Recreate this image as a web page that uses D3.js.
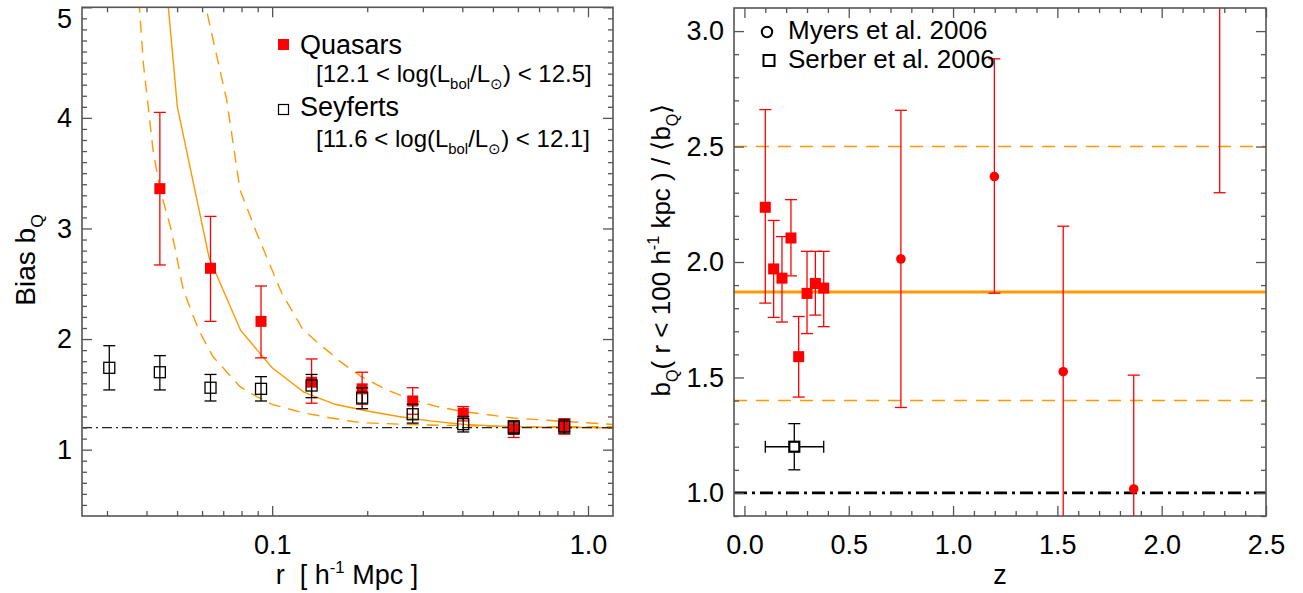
<!DOCTYPE html>
<html>
<head>
<meta charset="utf-8">
<script src="https://cdn.jsdelivr.net/npm/d3@7"></script>
<style>
	body { margin: 0; background: #fff; }
	text { font-family: "Liberation Sans", Arial, sans-serif; fill: #000; }
</style>
</head>
<body>
<div id="chart"></div>
<script>

// painel esquerdo: bias vs r
var quasarR = [0.0441, 0.0638, 0.0922, 0.1333, 0.1927, 0.2786, 0.4027, 0.5821, 0.8414];
var quasarBias = [3.36, 2.64, 2.16, 1.61, 1.55, 1.44, 1.33, 1.19, 1.21];
var quasarHi = [4.05, 3.11, 2.48, 1.82, 1.70, 1.56, 1.39, 1.26, 1.28];
var quasarLo = [2.67, 2.16, 1.83, 1.42, 1.41, 1.32, 1.26, 1.11, 1.14];

var seyfertR = [0.0305, 0.0441, 0.0638, 0.0922, 0.1333, 0.1927, 0.2786, 0.4027, 0.5821, 0.8414];
var seyfertBias = [1.74, 1.70, 1.56, 1.55, 1.58, 1.47, 1.32, 1.23, 1.20, 1.21];
var seyfertHi = [1.94, 1.85, 1.68, 1.66, 1.68, 1.56, 1.41, 1.30, 1.26, 1.27];
var seyfertLo = [1.54, 1.54, 1.44, 1.44, 1.47, 1.37, 1.24, 1.16, 1.14, 1.15];

var modelR = [0.0316, 0.0398, 0.0501, 0.0631, 0.0794, 0.1, 0.126, 0.158, 0.2, 0.251, 0.316, 0.398, 0.501, 0.631, 0.794, 1.0, 1.26];
var modelBias = [14, 7.26, 4.10, 2.74, 2.08, 1.74, 1.52, 1.41, 1.35, 1.30, 1.26, 1.23, 1.215, 1.205, 1.20, 1.20, 1.195];

var upperR = [0.0595, 0.0617, 0.0651, 0.0718, 0.0791, 0.0893, 0.1072, 0.1253, 0.1416, 0.152, 0.160, 0.191, 0.230, 0.277, 0.331, 0.400, 0.579, 0.840, 1.25];
var upperBias = [5.3, 5.0, 4.70, 4.16, 3.35, 2.96, 2.416, 2.084, 1.95, 1.88, 1.82, 1.662, 1.542, 1.452, 1.391, 1.346, 1.286, 1.256, 1.224];

var lowerR = [0.0368, 0.0380, 0.0391, 0.0420, 0.0441, 0.0480, 0.0523, 0.0557, 0.0591, 0.0650, 0.0791, 0.0895, 0.1005, 0.125, 0.152, 0.191, 0.277, 0.402, 0.578, 1.25];
var lowerBias = [5.6, 5.0, 4.494, 3.70, 3.36, 2.98, 2.446, 2.238, 2.057, 1.840, 1.569, 1.479, 1.407, 1.334, 1.289, 1.244, 1.226, 1.217, 1.208, 1.207];

var biasFloor = 1.2;

// painel direito: bias relativo vs z
var squareZ = [0.10, 0.14, 0.18, 0.223, 0.26, 0.30, 0.34, 0.38];
var squareB = [2.237, 1.97, 1.93, 2.104, 1.59, 1.864, 1.907, 1.887];
var squareHi = [2.66, 2.18, 2.11, 2.27, 1.764, 2.046, 2.046, 2.046];
var squareLo = [1.822, 1.76, 1.74, 1.94, 1.415, 1.69, 1.77, 1.72];

var circleZ = [0.75, 1.198, 1.528, 1.866, 2.278];
var circleB = [2.013, 2.37, 1.525, 1.017, 3.6];
var circleHi = [2.657, 2.88, 2.155, 1.51, 4.9];
var circleLo = [1.37, 1.865, 0.6, 0.5, 2.30];

var serberZ = [0.239];
var serberB = [1.2];
var serberZlo = [0.10];
var serberZhi = [0.38];
var serberBlo = [1.10];
var serberBhi = [1.30];

var meanRatio = 1.87;
var ratioBand = [2.5, 1.4];
var unity = 1.0;

var orange = "#ff9900";
var frameColor = "#555";

var svg = d3.select("#chart")
			.append("svg")
			.attr("width", 1303)
			.attr("height", 593);

svg.append("rect").attr("width", 1303).attr("height", 593).attr("fill", "#fff");

var xL = d3.scaleLog().domain([0.025, 1.2]).range([82, 613]);
var yL = d3.scaleLinear().domain([0.4, 5.0]).range([516, 7.3]);
var xR = d3.scaleLinear().domain([-0.05, 2.5]).range([734, 1266]);
var yR = d3.scaleLinear().domain([0.9, 3.1]).range([516, 8]);

var defs = svg.append("defs");
defs.append("clipPath").attr("id", "clipL")
	.append("rect").attr("x", 82).attr("y", 7.3).attr("width", 531).attr("height", 508.7);
defs.append("clipPath").attr("id", "clipR")
	.append("rect").attr("x", 734).attr("y", 8).attr("width", 532).attr("height", 508);

// texto com sub/sobrescrito
function richText(sel, parts, size){
	var t = sel.append("text").attr("font-size", size).style("white-space", "pre");
	var shift = 0;
	parts.forEach(function(p){
		var target = 0;
		var fs = size;
		if(p.sub){ target = 0.3 * size; fs = 0.62 * size; }
		if(p.sup){ target = -0.42 * size; fs = 0.62 * size; }
		t.append("tspan")
			.attr("dy", target - shift)
			.attr("font-size", fs)
			.text(p.t);
		shift = target;
	});
	return t;
}

function styleAxis(g){
	g.select(".domain").remove();
	g.selectAll(".tick line").attr("stroke", frameColor).attr("stroke-width", 1.3);
	g.selectAll(".tick text").attr("font-size", 27).attr("fill", "#000")
		.attr("font-family", "Liberation Sans, Arial, sans-serif");
}

function drawTicks(x, y, x0, x1, y0, y1, xMajor, xMinor, yMajor, yMinor, xFmt, yFmt){
	var g;
	// baixo
	g = svg.append("g").attr("transform", "translate(0," + y0 + ")")
		.call(d3.axisBottom(x).tickValues(xMajor).tickFormat(xFmt).tickSizeInner(-10).tickSizeOuter(0).tickPadding(19));
	styleAxis(g);
	g = svg.append("g").attr("transform", "translate(0," + y0 + ")")
		.call(d3.axisBottom(x).tickValues(xMinor).tickFormat("").tickSizeInner(-5).tickSizeOuter(0));
	styleAxis(g);
	// topo
	g = svg.append("g").attr("transform", "translate(0," + y1 + ")")
		.call(d3.axisTop(x).tickValues(xMajor).tickFormat("").tickSizeInner(-10).tickSizeOuter(0));
	styleAxis(g);
	g = svg.append("g").attr("transform", "translate(0," + y1 + ")")
		.call(d3.axisTop(x).tickValues(xMinor).tickFormat("").tickSizeInner(-5).tickSizeOuter(0));
	styleAxis(g);
	// esquerda
	var left = svg.append("g").attr("transform", "translate(" + x0 + ",0)")
		.call(d3.axisLeft(y).tickValues(yMajor).tickFormat(yFmt).tickSizeInner(-10).tickSizeOuter(0).tickPadding(10));
	styleAxis(left);
	g = svg.append("g").attr("transform", "translate(" + x0 + ",0)")
		.call(d3.axisLeft(y).tickValues(yMinor).tickFormat("").tickSizeInner(-5).tickSizeOuter(0));
	styleAxis(g);
	// direita
	g = svg.append("g").attr("transform", "translate(" + x1 + ",0)")
		.call(d3.axisRight(y).tickValues(yMajor).tickFormat("").tickSizeInner(-10).tickSizeOuter(0));
	styleAxis(g);
	g = svg.append("g").attr("transform", "translate(" + x1 + ",0)")
		.call(d3.axisRight(y).tickValues(yMinor).tickFormat("").tickSizeInner(-5).tickSizeOuter(0));
	styleAxis(g);

	svg.append("rect")
		.attr("x", x0).attr("y", y1)
		.attr("width", x1 - x0).attr("height", y0 - y1)
		.attr("fill", "none")
		.attr("stroke", frameColor)
		.attr("stroke-width", 1.6);
	return left;
}

function errorBars(g, xs, ys, lo, hi, xs2, color, cap, width){
	g.selectAll(null)
		.data(xs)
		.enter()
		.append("line")
		.attr("x1", function(d){ return xs2(d); })
		.attr("x2", function(d){ return xs2(d); })
		.attr("y1", function(d,i){ return ys(lo[i]); })
		.attr("y2", function(d,i){ return ys(hi[i]); })
		.attr("stroke", color)
		.attr("stroke-width", width);
	[lo, hi].forEach(function(arr){
		g.selectAll(null)
			.data(xs)
			.enter()
			.append("line")
			.attr("x1", function(d){ return xs2(d) - cap / 2; })
			.attr("x2", function(d){ return xs2(d) + cap / 2; })
			.attr("y1", function(d,i){ return ys(arr[i]); })
			.attr("y2", function(d,i){ return ys(arr[i]); })
			.attr("stroke", color)
			.attr("stroke-width", width);
	});
}

// ---------- Painel esquerdo ----------
var gL = svg.append("g").attr("clip-path", "url(#clipL)");

var lineL = d3.line()
	.x(function(d){ return xL(d[0]); })
	.y(function(d){ return yL(d[1]); });

gL.append("path")
	.attr("d", lineL(d3.zip(modelR, modelBias)))
	.attr("fill", "none").attr("stroke", orange).attr("stroke-width", 1.4);
gL.append("path")
	.attr("d", lineL(d3.zip(upperR, upperBias)))
	.attr("fill", "none").attr("stroke", orange).attr("stroke-width", 1.4)
	.attr("stroke-dasharray", "12,8");
gL.append("path")
	.attr("d", lineL(d3.zip(lowerR, lowerBias)))
	.attr("fill", "none").attr("stroke", orange).attr("stroke-width", 1.4)
	.attr("stroke-dasharray", "12,8");

gL.append("line")
	.attr("x1", 82).attr("x2", 613)
	.attr("y1", yL(biasFloor)).attr("y2", yL(biasFloor))
	.attr("stroke", "#222").attr("stroke-width", 1.2)
	.attr("stroke-dasharray", "10,4,2,4");

errorBars(gL, quasarR, yL, quasarLo, quasarHi, xL, "#ff0000", 12, 1.3);
gL.selectAll(".qsq")
	.data(quasarR)
	.enter()
	.append("rect")
	.attr("x", function(d){ return xL(d) - 5.5; })
	.attr("y", function(d,i){ return yL(quasarBias[i]) - 5.5; })
	.attr("width", 11).attr("height", 11)
	.attr("fill", "#ff0000");

errorBars(gL, seyfertR, yL, seyfertLo, seyfertHi, xL, "#000", 12, 1.3);
gL.selectAll(".ssq")
	.data(seyfertR)
	.enter()
	.append("rect")
	.attr("x", function(d){ return xL(d) - 5.5; })
	.attr("y", function(d,i){ return yL(seyfertBias[i]) - 5.5; })
	.attr("width", 11).attr("height", 11)
	.attr("fill", "none").attr("stroke", "#000").attr("stroke-width", 1.3);

var leftAxis = drawTicks(xL, yL, 82, 613, 516, 7.3,
	[0.1, 1.0], [0.03, 0.04, 0.05, 0.06, 0.07, 0.08, 0.09, 0.2, 0.3, 0.4, 0.5, 0.6, 0.7, 0.8, 0.9],
	[1, 2, 3, 4, 5], d3.range(5, 50).map(function(d){ return d / 10; }).filter(function(d){ return d % 1 !== 0; }),
	d3.format(".1f"), d3.format("d"));
leftAxis.selectAll(".tick text")
	.filter(function(d){ return d === 5; })
	.attr("transform", "translate(0,12)");

// legenda esquerda
svg.append("rect").attr("x", 278).attr("y", 39).attr("width", 11).attr("height", 11).attr("fill", "#ff0000");
richText(svg, [{t: "Quasars"}], 27).attr("x", 300).attr("y", 54);
richText(svg, [{t: "[12.1 < log(L"}, {t: "bol", sub: true}, {t: "/L"}, {t: "\u2299", sub: true}, {t: ") < 12.5]"}], 24)
	.attr("x", 316).attr("y", 82);
svg.append("rect").attr("x", 278.5).attr("y", 104.5).attr("width", 10).attr("height", 10)
	.attr("fill", "none").attr("stroke", "#000").attr("stroke-width", 1.2);
richText(svg, [{t: "Seyferts"}], 27).attr("x", 300).attr("y", 116);
richText(svg, [{t: "[11.6 < log(L"}, {t: "bol", sub: true}, {t: "/L"}, {t: "\u2299", sub: true}, {t: ") < 12.1]"}], 24)
	.attr("x", 316).attr("y", 147);

// títulos esquerda
richText(svg, [{t: "Bias b"}, {t: "Q", sub: true}], 28)
	.attr("text-anchor", "middle")
	.attr("transform", "translate(35,260) rotate(-90)");
richText(svg, [{t: "r  [ h"}, {t: "-1", sup: true}, {t: " Mpc ]"}], 27)
	.attr("text-anchor", "middle")
	.attr("x", 347).attr("y", 584);

// ---------- Painel direito ----------
var gR = svg.append("g").attr("clip-path", "url(#clipR)");

gR.append("line")
	.attr("x1", 734).attr("x2", 1266)
	.attr("y1", yR(meanRatio)).attr("y2", yR(meanRatio))
	.attr("stroke", orange).attr("stroke-width", 3);
gR.selectAll(".band")
	.data(ratioBand)
	.enter()
	.append("line")
	.attr("x1", 734).attr("x2", 1266)
	.attr("y1", function(d){ return yR(d); })
	.attr("y2", function(d){ return yR(d); })
	.attr("stroke", orange).attr("stroke-width", 1.4)
	.attr("stroke-dasharray", "13,9");
gR.append("line")
	.attr("x1", 734).attr("x2", 1266)
	.attr("y1", yR(unity)).attr("y2", yR(unity))
	.attr("stroke", "#000").attr("stroke-width", 2.6)
	.attr("stroke-dasharray", "13,5,3,5");

errorBars(gR, squareZ, yR, squareLo, squareHi, xR, "#ff0000", 12, 1.3);
gR.selectAll(".rsq")
	.data(squareZ)
	.enter()
	.append("rect")
	.attr("x", function(d){ return xR(d) - 5.5; })
	.attr("y", function(d,i){ return yR(squareB[i]) - 5.5; })
	.attr("width", 11).attr("height", 11)
	.attr("fill", "#ff0000");

errorBars(gR, circleZ, yR, circleLo, circleHi, xR, "#ff0000", 12, 1.3);
gR.selectAll(".rci")
	.data(circleZ)
	.enter()
	.append("circle")
	.attr("cx", function(d){ return xR(d); })
	.attr("cy", function(d,i){ return yR(circleB[i]); })
	.attr("r", 4.8)
	.attr("fill", "#ff0000");

errorBars(gR, serberZ, yR, serberBlo, serberBhi, xR, "#000", 12, 1.3);
gR.selectAll(".szx")
	.data(serberZ)
	.enter()
	.append("line")
	.attr("x1", function(d,i){ return xR(serberZlo[i]); })
	.attr("x2", function(d,i){ return xR(serberZhi[i]); })
	.attr("y1", function(d,i){ return yR(serberB[i]); })
	.attr("y2", function(d,i){ return yR(serberB[i]); })
	.attr("stroke", "#000").attr("stroke-width", 1.3);
[serberZlo, serberZhi].forEach(function(arr){
	gR.selectAll(null)
		.data(serberZ)
		.enter()
		.append("line")
		.attr("x1", function(d,i){ return xR(arr[i]); })
		.attr("x2", function(d,i){ return xR(arr[i]); })
		.attr("y1", function(d,i){ return yR(serberB[i]) - 6; })
		.attr("y2", function(d,i){ return yR(serberB[i]) + 6; })
		.attr("stroke", "#000").attr("stroke-width", 1.3);
});
gR.selectAll(".ssr")
	.data(serberZ)
	.enter()
	.append("rect")
	.attr("x", function(d){ return xR(d) - 5; })
	.attr("y", function(d,i){ return yR(serberB[i]) - 5; })
	.attr("width", 10).attr("height", 10)
	.attr("fill", "#fff").attr("stroke", "#000").attr("stroke-width", 2.2);

drawTicks(xR, yR, 734, 1266, 516, 8,
	[0, 0.5, 1.0, 1.5, 2.0, 2.5], d3.range(1, 25).filter(function(d){ return d % 5 !== 0; }).map(function(d){ return d / 10; }),
	[1.0, 1.5, 2.0, 2.5, 3.0], d3.range(9, 31).filter(function(d){ return d % 5 !== 0; }).map(function(d){ return d / 10; }),
	d3.format(".1f"), d3.format(".1f"));

// legenda direita
svg.append("circle").attr("cx", 767).attr("cy", 32).attr("r", 5.2)
	.attr("fill", "none").attr("stroke", "#000").attr("stroke-width", 2);
richText(svg, [{t: "Myers et al. 2006"}], 26).attr("x", 788).attr("y", 39);
svg.append("rect").attr("x", 763.5).attr("y", 55).attr("width", 11).attr("height", 11)
	.attr("fill", "none").attr("stroke", "#000").attr("stroke-width", 2);
richText(svg, [{t: "Serber et al. 2006"}], 26).attr("x", 788).attr("y", 68);

// títulos direita
richText(svg, [{t: "b"}, {t: "Q", sub: true}, {t: "( r < 100 h"}, {t: "-1", sup: true}, {t: " kpc ) / \u27E8b"}, {t: "Q", sub: true}, {t: "\u27E9"}], 26)
	.attr("text-anchor", "middle")
	.attr("transform", "translate(670,250) rotate(-90)");
richText(svg, [{t: "z"}], 27)
	.attr("text-anchor", "middle")
	.attr("x", 1000).attr("y", 584);

</script>
</body>
</html>
